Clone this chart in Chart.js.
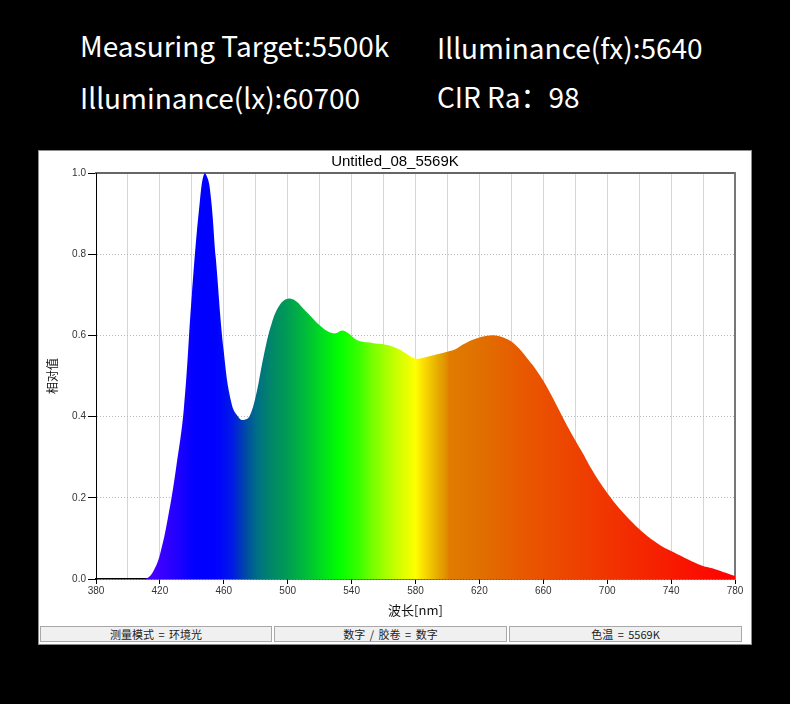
<!DOCTYPE html>
<html>
<head>
<meta charset="utf-8">
<script src="https://cdn.jsdelivr.net/npm/chart.js@4.4.1/dist/chart.umd.min.js"></script>
<style>
  html, body { margin: 0; padding: 0; background: #000; }
  body { width: 790px; height: 704px; position: relative; overflow: hidden; }
  .head { position: absolute; color: #fff; font-family: "Noto Sans CJK SC", "Noto Sans", sans-serif; font-size: 28px; line-height: 28px; white-space: nowrap; }
  #panel { position: absolute; left: 38px; top: 150px; width: 714px; height: 495px; background: #fff; border: 1px solid #8c8c8c; box-sizing: border-box; }
  #wrap { position: absolute; left: 0; top: 0; width: 712px; height: 472px; }
  #status { position: absolute; left: 1px; top: 475px; height: 16px; display: flex; }
  .cell { box-sizing: border-box; height: 16px; margin-right: 2px; background: #f0f0f0; border: 1px solid #a8a8a8; font-family: "Noto Sans CJK SC", sans-serif; font-size: 11px; line-height: 14px; text-align: center; color: #222; word-spacing: 2px; }
</style>
</head>
<body>
<div class="head" style="left:80px;top:31px">Measuring Target:5500k</div>
<div class="head" style="left:437px;top:33px">Illuminance(fx):5640</div>
<div class="head" style="left:80px;top:83px">Illuminance(lx):60700</div>
<div class="head" style="left:437px;top:82px">CIR Ra：98</div>

<div id="panel">
  <div id="wrap"><canvas id="spectrumChart"></canvas></div>
  <div id="status">
    <div class="cell" style="width:232px">测量模式 = 环境光</div>
    <div class="cell" style="width:233px">数字 / 胶卷 = 数字</div>
    <div class="cell" style="width:233px">色温 = 5569K</div>
  </div>
</div>

<script>
// spectrum (relative value per wavelength, nm)
var wavelengths = [380, 390, 400, 408, 412, 416, 420, 425, 430, 435, 440, 445, 448, 451, 455, 460, 465, 470, 473, 476,
  480, 485, 490, 495, 500, 505, 510, 515, 520, 525, 530, 534, 538, 542, 546, 550, 555, 560, 565, 570, 575,
  580, 585, 590, 595, 600, 605, 610, 615, 620, 625, 630, 635, 640, 645, 650, 655, 660, 665, 670, 675,
  680, 685, 690, 695, 700, 705, 710, 715, 720, 725, 730, 735, 740, 745, 750, 755, 760, 765, 770, 775, 780];
var relValues = [0, 0, 0, 0, 0.002, 0.02, 0.06, 0.15, 0.27, 0.42, 0.70, 0.93, 1.0, 0.97, 0.79, 0.56, 0.43, 0.395, 0.392, 0.40,
  0.45, 0.55, 0.63, 0.675, 0.69, 0.685, 0.665, 0.645, 0.625, 0.61, 0.605, 0.612, 0.605, 0.592, 0.585, 0.583, 0.58, 0.578, 0.573, 0.565, 0.553,
  0.543, 0.545, 0.55, 0.555, 0.56, 0.566, 0.578, 0.588, 0.595, 0.599, 0.6, 0.595, 0.585, 0.567, 0.543, 0.518, 0.488, 0.453, 0.415, 0.377,
  0.342, 0.308, 0.272, 0.24, 0.212, 0.186, 0.163, 0.142, 0.123, 0.106, 0.092, 0.079, 0.069, 0.059, 0.049, 0.04, 0.032, 0.027, 0.021, 0.014, 0.007];

// colour of the fill along the wavelength axis
var gradWl = [380, 415, 431, 442, 455, 465, 472, 480, 490, 500, 515, 532, 545, 552, 566, 580, 586, 593, 599, 601, 620, 648, 695, 744, 780];
var gradColors = ['#5000ff', '#4800ff', '#2000ff', '#0000ff', '#0000ff', '#0018e8', '#0040b0', '#006c88', '#008868', '#009c54', '#00c830',
  '#00ff00', '#3cff00', '#70ff00', '#c0ff00', '#ffff00', '#f8d800', '#e8b000', '#e09000', '#e07c00', '#e07000', '#e85800', '#f03800', '#f81800', '#ff0000'];

var xTicksMin = 380, xTicksMax = 780;
var yTicksMin = 0, yTicksMax = 1;

var cachedGrad = null, cachedKey = '';
function spectrumFill(context) {
    var chart = context.chart;
    if (!chart.chartArea) return '#0000ff';
    var x = chart.scales.x;
    var x0 = x.getPixelForValue(xTicksMin), x1 = x.getPixelForValue(xTicksMax);
    var key = x0 + '_' + x1;
    if (cachedGrad && cachedKey === key) return cachedGrad;
    var g = chart.ctx.createLinearGradient(x0, 0, x1, 0);
    for (var i = 0; i < gradWl.length; i++) {
        g.addColorStop((gradWl[i] - xTicksMin) / (xTicksMax - xTicksMin), gradColors[i]);
    }
    cachedGrad = g; cachedKey = key;
    return g;
}

function isLabelled(v) {
    return (v - xTicksMin) % 40 === 0;
}

const spectrumChart = document.getElementById('spectrumChart');
const myChart = new Chart(spectrumChart, {
    type: 'line',
    data: {
        datasets: [{
            label: 'Untitled_08_5569K',
            data: wavelengths.map(function (w, i) { return { x: w, y: relValues[i] }; }),
            fill: 'origin',
            backgroundColor: spectrumFill,
            borderWidth: 0,
            pointRadius: 0,
            tension: 0.4
        }]
    },
    options: {
        responsive: true,
        maintainAspectRatio: false,
        animation: false,
        layout: { padding: 0 },
        plugins: {
            legend: { display: false },
            tooltip: { enabled: false },
            title: {
                display: true,
                text: 'Untitled_08_5569K',
                color: '#000',
                font: { family: 'Liberation Sans', size: 15, weight: 'normal' },
                padding: { top: 2, bottom: 2 }
            }
        },
        scales: {
            x: {
                type: 'linear',
                position: 'bottom',
                min: xTicksMin,
                max: xTicksMax,
                afterFit: function (s) { s.height = 44; },
                ticks: {
                    stepSize: 20,
                    autoSkip: false,
                    maxRotation: 0,
                    padding: 1,
                    color: '#333',
                    font: { family: 'Liberation Sans', size: 10 },
                    callback: function (v) { return isLabelled(v) ? String(v) : ''; }
                },
                grid: {
                    color: '#d6d6d6',
                    lineWidth: 1,
                    tickLength: 5,
                    tickColor: function (ctx) { return ctx.tick && isLabelled(ctx.tick.value) ? '#000' : 'rgba(0,0,0,0)'; }
                },
                border: { color: '#000', width: 1.5 },
                title: {
                    display: true,
                    text: '波长[nm]',
                    color: '#111',
                    font: { family: 'Noto Sans CJK SC', size: 13 },
                    padding: { top: 0, bottom: 5 }
                }
            },
            xTop: {
                type: 'linear',
                position: 'top',
                min: xTicksMin,
                max: xTicksMax,
                afterFit: function (s) { s.height = 0; },
                ticks: { display: false },
                grid: { display: false },
                border: { color: '#666', width: 2 }
            },
            y: {
                min: yTicksMin,
                max: yTicksMax,
                afterFit: function (s) { s.width = 57; },
                ticks: {
                    stepSize: 0.2,
                    padding: 2,
                    color: '#333',
                    font: { family: 'Liberation Sans', size: 10 },
                    callback: function (v) { return v.toFixed(1); }
                },
                grid: {
                    color: '#b8b8b8',
                    lineWidth: 1,
                    tickLength: 8,
                    tickColor: '#000'
                },
                border: { color: '#000', width: 1, dash: [1, 2] },
                title: {
                    display: true,
                    text: '相对值',
                    color: '#111',
                    font: { family: 'Noto Sans CJK SC', size: 12 },
                    padding: { top: 6, bottom: 0 }
                }
            },
            yRight: {
                position: 'right',
                min: yTicksMin,
                max: yTicksMax,
                afterFit: function (s) { s.width = 16; },
                ticks: { display: false },
                grid: { display: false },
                border: { color: '#777', width: 2 }
            }
        }
    }
});
</script>
</body>
</html>
